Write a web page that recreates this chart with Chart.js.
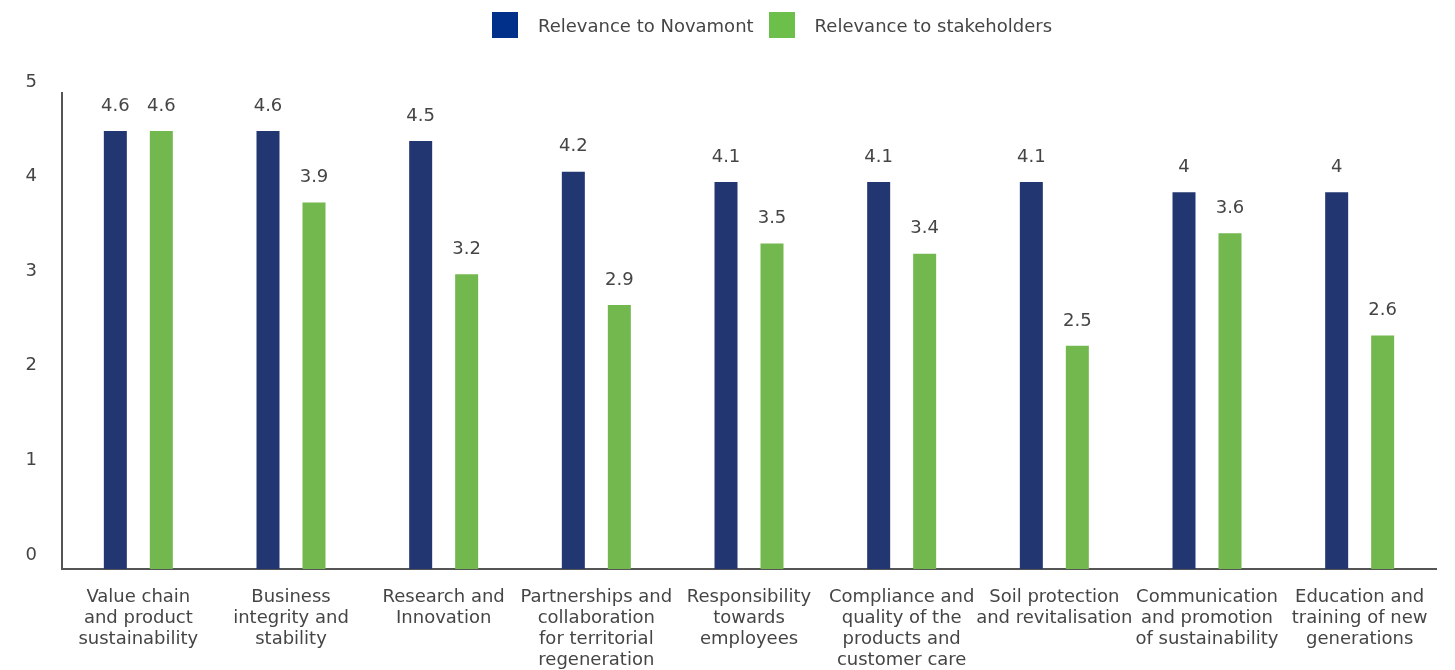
<!DOCTYPE html>
<html>
<head>
<meta charset="utf-8">
<script src="https://cdn.jsdelivr.net/npm/chart.js@4"></script>
<style>
  html, body { margin: 0; padding: 0; background: #fff; }
  #wrap { position: relative; width: 1455px; height: 670px; }
  #legend { position: absolute; top: 12px; left: 492px; display: flex; align-items: center;
            font-family: "DejaVu Sans", sans-serif; font-size: 18px; color: #454545; }
  #legend span.box { display: inline-block; width: 26px; height: 26px; margin-right: 20px; }
  #legend span.txt { margin-right: 15px; }
</style>
</head>
<body>
<div id="wrap">
  <canvas id="chart" width="1455" height="670"></canvas>
  <div id="legend"></div>
</div>
<script>
const categories = [
  ['Value chain', 'and product', 'sustainability'],
  ['Business', 'integrity and', 'stability'],
  ['Research and', 'Innovation'],
  ['Partnerships and', 'collaboration', 'for territorial', 'regeneration'],
  ['Responsibility', 'towards', 'employees'],
  ['Compliance and', 'quality of the', 'products and', 'customer care'],
  ['Soil protection', 'and revitalisation'],
  ['Communication', 'and promotion', 'of sustainability'],
  ['Education and', 'training of new', 'generations']
]
const seriesNames = ['Relevance to Novamont', 'Relevance to stakeholders']
const novamont = [4.6, 4.6, 4.5, 4.2, 4.1, 4.1, 4.1, 4, 4]
const stakeholders = [4.6, 3.9, 3.2, 2.9, 3.5, 3.4, 2.5, 3.6, 2.6]
const yTickValues = [0, 1, 2, 3, 4, 5]

const barColors = ['#223671', '#72b84e']
const legendColors = ['#00308a', '#6cbf4b']
const textColor = '#454545'
const fontFamily = '"DejaVu Sans", sans-serif'

// html legend
const legendEl = document.getElementById('legend')
seriesNames.forEach((name, i) => {
  legendEl.insertAdjacentHTML('beforeend',
    `<span class="box" style="background:${legendColors[i]}"></span><span class="txt">${name}</span>`)
})

// value labels above the bars
const valueLabels = {
  id: 'valueLabels',
  afterDatasetsDraw (chart) {
    const ctx = chart.ctx
    ctx.save()
    ctx.font = `18px ${fontFamily}`
    ctx.fillStyle = textColor
    ctx.textAlign = 'center'
    ctx.textBaseline = 'middle'
    chart.data.datasets.forEach((ds, i) => {
      chart.getDatasetMeta(i).data.forEach((bar, j) => {
        ctx.fillText(String(ds.data[j]), bar.x, bar.y - 25)
      })
    })
    ctx.restore()
  }
}

new Chart(document.getElementById('chart'), {
  type: 'bar',
  data: {
    labels: categories,
    datasets: [
      { label: seriesNames[0], data: novamont, backgroundColor: barColors[0], yAxisID: 'yBar' },
      { label: seriesNames[1], data: stakeholders, backgroundColor: barColors[1], yAxisID: 'yBar' }
    ]
  },
  options: {
    responsive: false,
    animation: false,
    categoryPercentage: 0.6025,
    barPercentage: 0.5,
    layout: { padding: { top: 93, right: 19, left: 0, bottom: 0 } },
    plugins: {
      legend: { display: false },
      tooltip: { enabled: false }
    },
    scales: {
      x: {
        grid: { display: false, drawTicks: false },
        border: { display: true, color: '#555', width: 2 },
        ticks: {
          color: textColor,
          font: { family: fontFamily, size: 18, lineHeight: 1.167 },
          padding: 18,
          maxRotation: 0,
          autoSkip: false
        },
        afterFit (scale) { scale.height = 101 }
      },
      y: {
        position: 'left',
        min: -0.148,
        max: 4.884,
        grid: { display: false, drawTicks: false },
        border: { display: true, color: '#555', width: 2 },
        ticks: {
          color: textColor,
          font: { family: fontFamily, size: 18 },
          padding: 25
        },
        afterBuildTicks (scale) {
          scale.ticks = yTickValues.map(v => ({ value: v }))
        },
        afterFit (scale) { scale.width = 62 }
      },
      // the bars in the original start a little above zero, so they use their own hidden scale
      yBar: {
        display: false,
        min: 0.32,
        max: 4.97
      }
    }
  },
  plugins: [valueLabels]
});
</script>
</body>
</html>
